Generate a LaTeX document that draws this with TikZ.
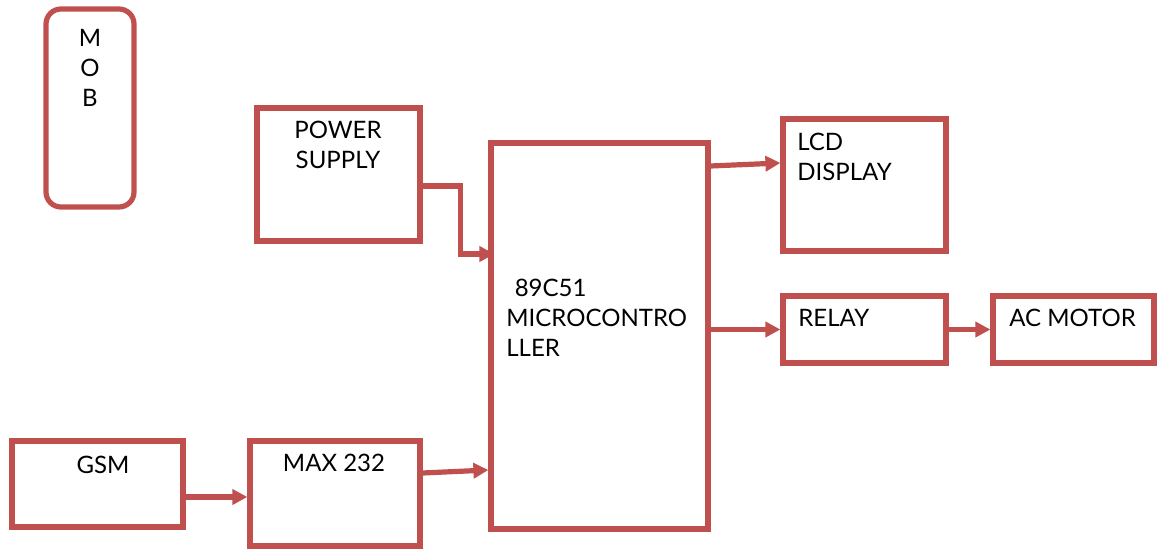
\documentclass[tikz,border=0pt]{standalone}
\usepackage{fontspec}
\setmainfont{Lato}
\usepackage{xcolor}
\definecolor{boxred}{HTML}{C0504D}
\usetikzlibrary{arrows.meta, positioning, calc}

\begin{document}
\begin{tikzpicture}[
        x=0.5pt, y=-0.5pt,
        blk/.style={draw=boxred, line width=2.6pt, rectangle, inner sep=0pt, fill=white},
        wire/.style={-{Triangle[length=7.5pt, width=7.5pt]}, line width=2.6pt, draw=boxred},
        txt/.style={font=\fontsize{12}{15}\selectfont, inner sep=0pt, text=black}
    ]
        \useasboundingbox (0,0) rectangle (1160,550);

        % Main MCU
        \node[blk, minimum width=108.5pt, minimum height=193pt] (mcu) at (599.5,336) {};
        \node[txt, align=left, anchor=west] (mcutxt) at (506,318) {\hspace*{0.35em}89C51\\MICROCONTRO\\LLER};

        % Inputs
        \node[blk, rounded corners=7.5pt, minimum width=44pt, minimum height=99pt] (mob) at (90,108) {};
        \node[txt, align=center] (mobtxt) at (90,68) {M\\O\\B};
        \node[blk, minimum width=81.5pt, minimum height=66.5pt] (psu) at (338.5,174.5) {};
        \node[txt, align=center] (psutxt) at (338,145) {POWER\\SUPPLY};
        \node[blk, minimum width=85.5pt, minimum height=43pt] (gsm) at (97.5,484) {};
        \node[txt] (gsmtxt) at (103,465) {GSM};
        \node[blk, minimum width=85pt, minimum height=52.5pt] (max) at (335,493.5) {};
        \node[txt] (maxtxt) at (334,463) {MAX 232};

        % Outputs
        \node[blk, minimum width=81.5pt, minimum height=66pt] (lcd) at (864.5,185) {};
        \node[txt, align=left, anchor=west] (lcdtxt) at (797,157) {LCD\\DISPLAY};
        \node[blk, minimum width=81.5pt, minimum height=33.5pt] (relay) at (864.5,329.5) {};
        \node[txt, anchor=west] (relaytxt) at (798,318) {RELAY};
        \node[blk, minimum width=80.5pt, minimum height=33.5pt] (motor) at (1073.5,329.5) {};
        \node[txt, anchor=west] (motortxt) at (1009,318) {AC MOTOR};

        % Connections
        \draw[wire] ([yshift=-5.75pt]psu.east) -- ++(19pt,0) |- ([xshift=3pt]mcu.west |- 0,254);
        \draw[wire] (gsm.east |- 0,497) -- (max.west |- 0,497);
        \draw[wire] (max.east |- 0,473) -- (mcu.west |- 0,470);
        \draw[wire] (mcu.east |- 0,166) -- (lcd.west |- 0,163);
        \draw[wire] (mcu.east |- relay.west) -- (relay.west);
        \draw[wire] (relay.east) -- (motor.west);
    \end{tikzpicture}
\end{document}
